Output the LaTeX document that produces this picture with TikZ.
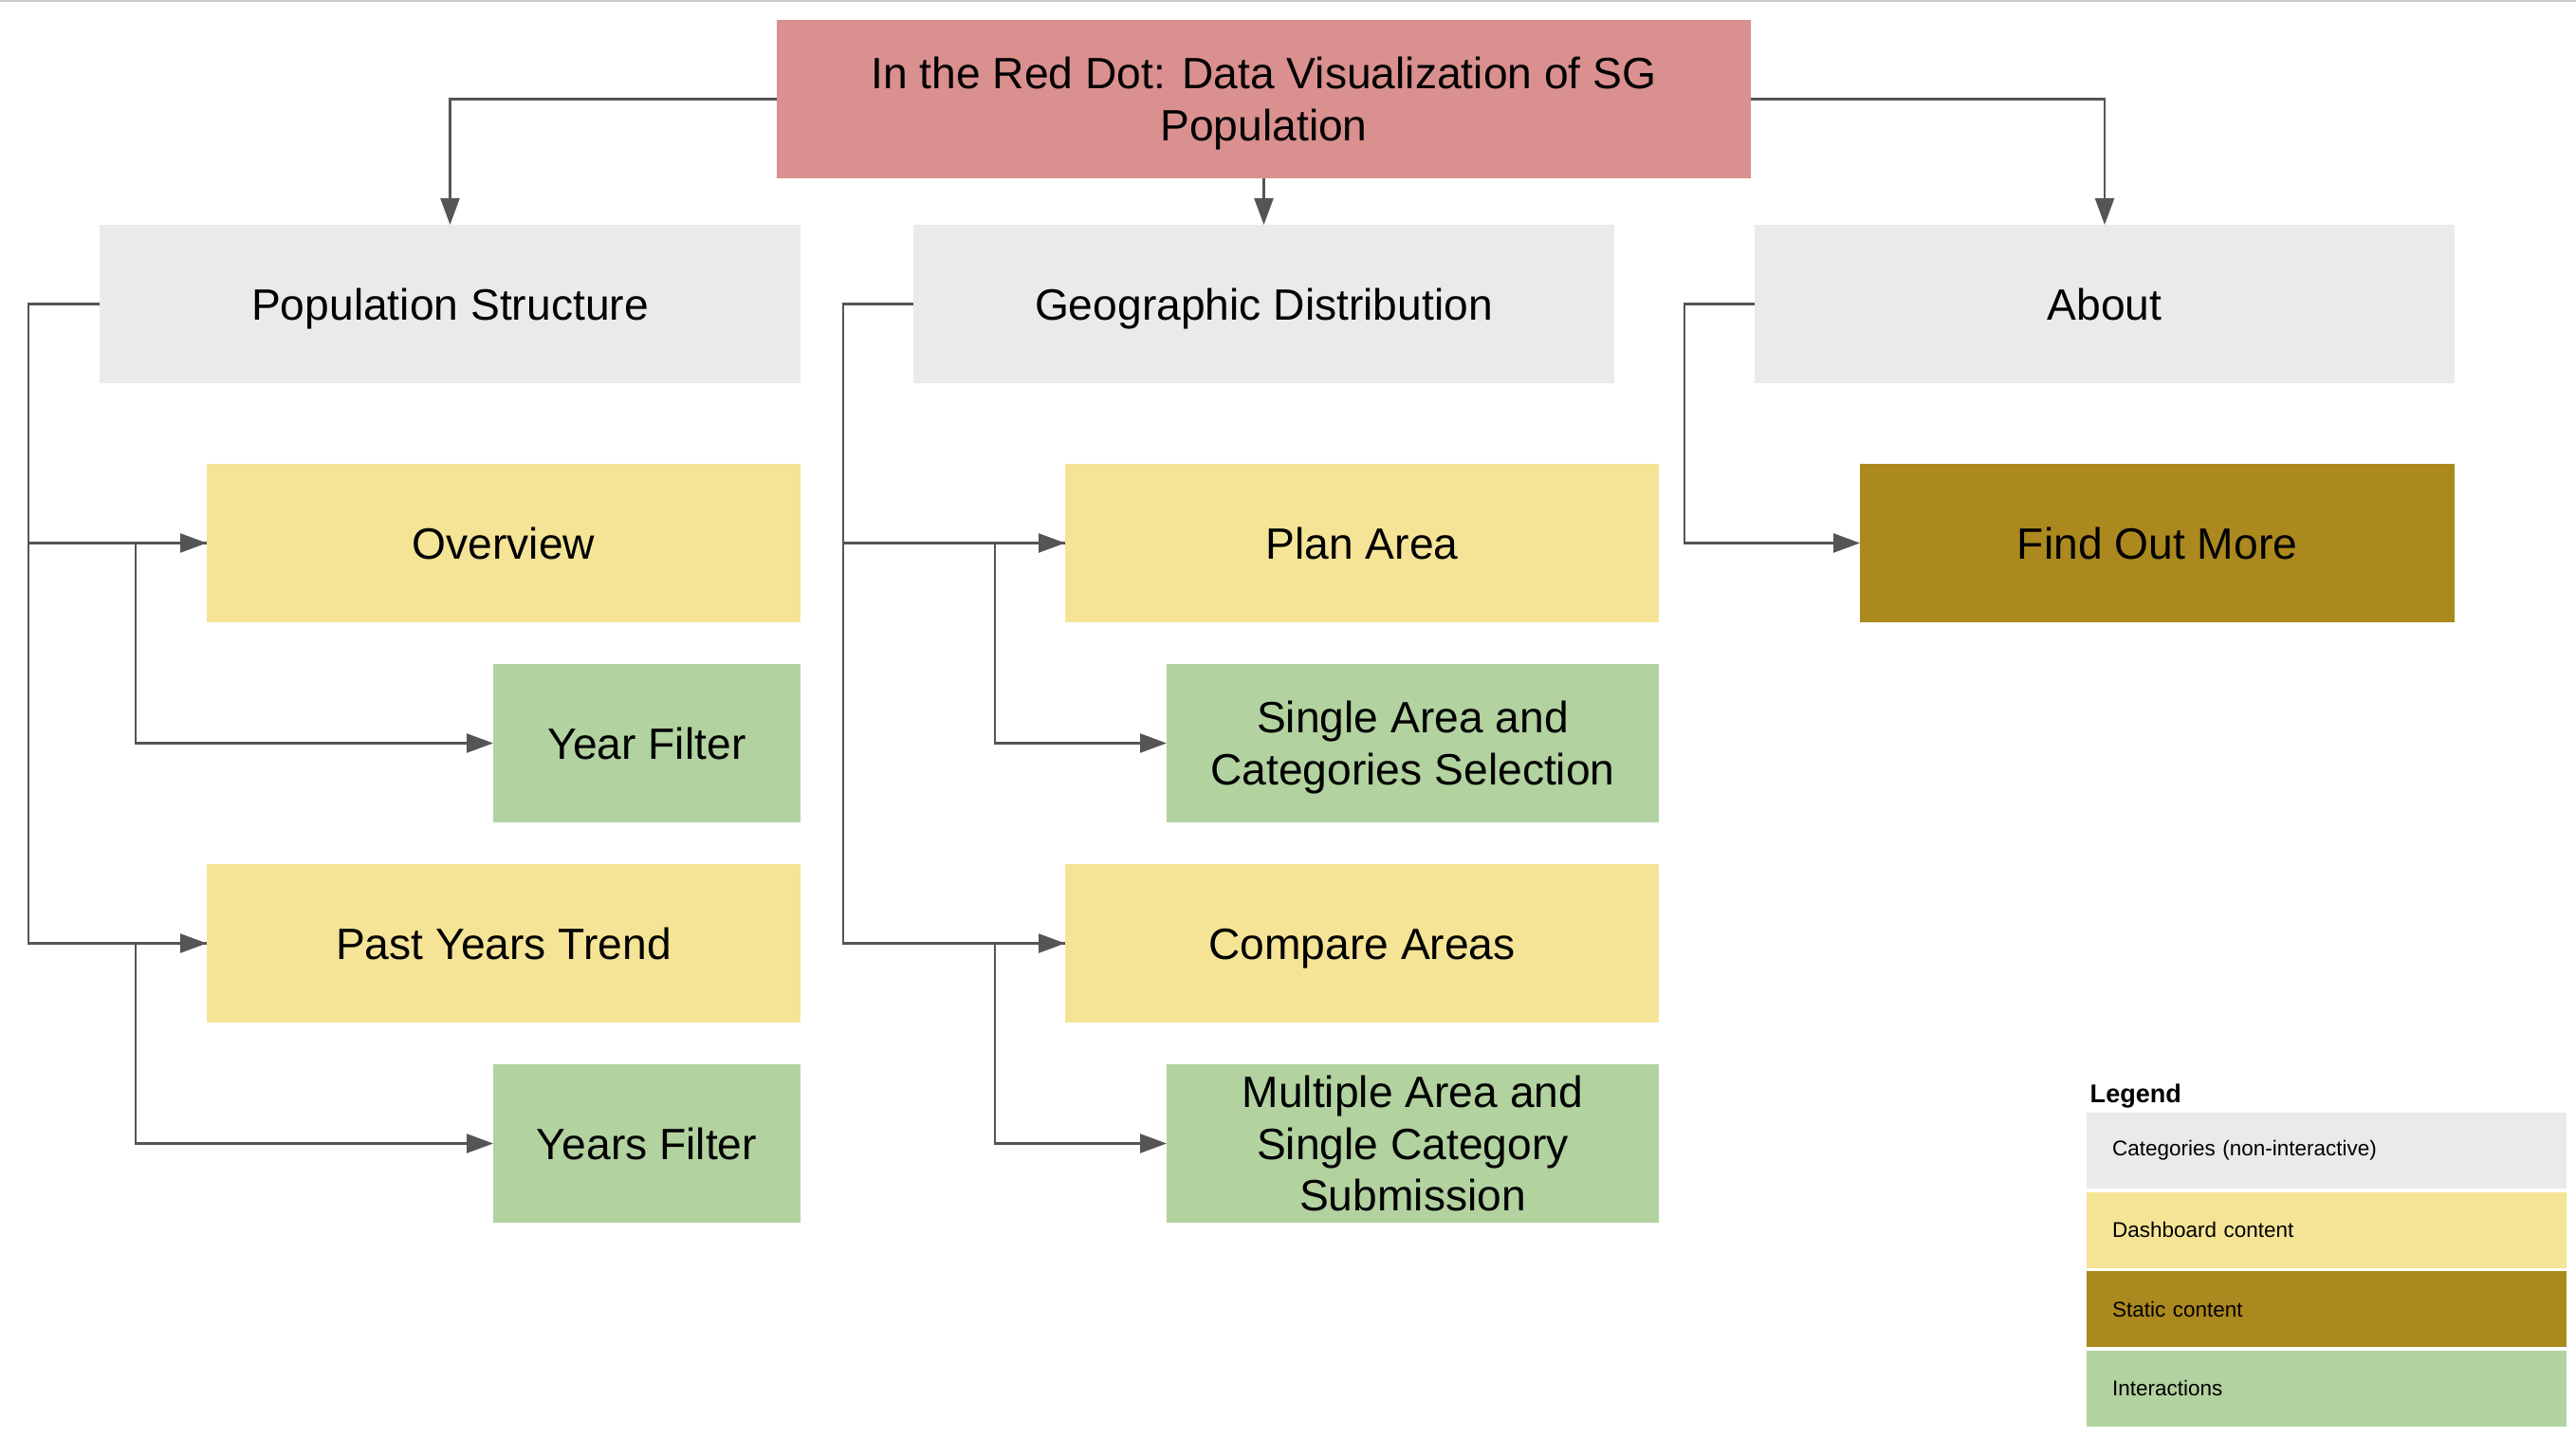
\documentclass[tikz,border=0pt]{standalone}
\usepackage{fontspec}
\setmainfont{Liberation Sans}
\usepackage{tikz}
\usetikzlibrary{positioning, arrows.meta}

\definecolor{titlered}{RGB}{218,144,143}
\definecolor{catgray}{RGB}{234,234,234}
\definecolor{dashyellow}{RGB}{245,228,149}
\definecolor{staticolive}{RGB}{172,137,30}
\definecolor{actgreen}{RGB}{178,210,160}
\definecolor{linegray}{RGB}{85,85,85}
\definecolor{edgegray}{RGB}{204,204,204}

\newcommand{\boxstrut}{\rule[-3.4pt]{0pt}{16.3pt}}

\begin{document}
\begin{tikzpicture}[
    box/.style={rectangle, inner sep=0pt, outer sep=0pt, minimum height=1.67cm, align=center,
                font=\fontsize{13.15pt}{15.5pt}\selectfont,
                execute at begin node=\boxstrut, execute at end node=\boxstrut},
    catbox/.style={box, fill=catgray, minimum width=7.39cm},
    dashbox/.style={box, fill=dashyellow, minimum width=6.26cm},
    staticbox/.style={box, fill=staticolive, minimum width=6.27cm},
    actbox/.style={box, fill=actgreen},
    legrow/.style={rectangle, outer sep=0pt, inner xsep=0.27cm, inner ysep=0pt, minimum height=0.8cm,
                   text width=4.52cm, align=left, font=\fontsize{6.4pt}{7.7pt}\selectfont},
    arrow/.style={-{Triangle[length=0.28cm, width=0.2cm]}, draw=linegray, line width=0.7pt}
]
\useasboundingbox (0,0) rectangle (27.16,-15.16);
\draw[edgegray, line width=0.02cm] (0,-0.01) -- (27.16,-0.01);

% Root
\node[box, fill=titlered, minimum width=10.27cm] (title) at (13.325,-1.045)
    {\boxstrut In the Red Dot: Data Visualization of SG\\Population};

% Categories
\node[catbox, below=0.49cm of title] (geo) {Geographic Distribution};
\node[catbox, left=1.19cm of geo] (pop) {Population Structure};
\node[catbox, right=1.48cm of geo, minimum width=7.38cm] (about) {About};

% Population Structure branch
\node[dashbox, below=0.85cm of pop.south east, anchor=north east] (overview) {Overview};
\node[actbox, below=0.44cm of overview.south east, anchor=north east, minimum width=3.24cm] (yearflt) {Year Filter};
\node[dashbox, below=0.44cm of yearflt.south east, anchor=north east] (trend) {Past Years Trend};
\node[actbox, below=0.44cm of trend.south east, anchor=north east, minimum width=3.24cm] (yearsflt) {Years Filter};

% Geographic Distribution branch
\node[dashbox, below=0.85cm of geo.south east, anchor=north east, xshift=0.47cm] (plan) {Plan Area};
\node[actbox, below=0.44cm of plan.south east, anchor=north east, minimum width=5.19cm] (single)
    {\boxstrut Single Area and\\Categories Selection};
\node[dashbox, below=0.44cm of single.south east, anchor=north east] (compare) {Compare Areas};
\node[actbox, below=0.44cm of compare.south east, anchor=north east, minimum width=5.19cm] (multi)
    {\boxstrut Multiple Area and\\Single Category\\Submission};

% About branch
\node[staticbox, below=0.85cm of about.south east, anchor=north east] (findout) {Find Out More};

% Legend
\node[anchor=base west, inner sep=0pt, font=\fontsize{7.7pt}{9.2pt}\selectfont\bfseries] (legtitle) at (22.03,-11.62) {Legend};
\node[legrow, fill=catgray, anchor=north west] (leg1) at (22.00,-11.73) {Categories (non-interactive)};
\node[legrow, fill=dashyellow, below=0.035cm of leg1] (leg2) {Dashboard content};
\node[legrow, fill=staticolive, below=0.035cm of leg2] (leg3) {Static content};
\node[legrow, fill=actgreen, below=0.035cm of leg3] (leg4) {Interactions};

% Edges
\draw[arrow] (title.west) -| (pop.north);
\draw[arrow] (title.south) -- (geo.north);
\draw[arrow] (title.east) -| (about.north);

\draw[arrow] (overview.west) -- ++(-0.75,0) |- (yearflt.west);
\draw[arrow] (trend.west) -- ++(-0.75,0) |- (yearsflt.west);
\draw[arrow] (pop.west) -- ++(-0.75,0) |- (overview.west);
\draw[arrow] (pop.west) -- ++(-0.75,0) |- (trend.west);

\draw[arrow] (plan.west) -- ++(-0.74,0) |- (single.west);
\draw[arrow] (compare.west) -- ++(-0.74,0) |- (multi.west);
\draw[arrow] (geo.west) -- ++(-0.74,0) |- (plan.west);
\draw[arrow] (geo.west) -- ++(-0.74,0) |- (compare.west);

\draw[arrow] (about.west) -- ++(-0.74,0) |- (findout.west);

\end{tikzpicture}
\end{document}
